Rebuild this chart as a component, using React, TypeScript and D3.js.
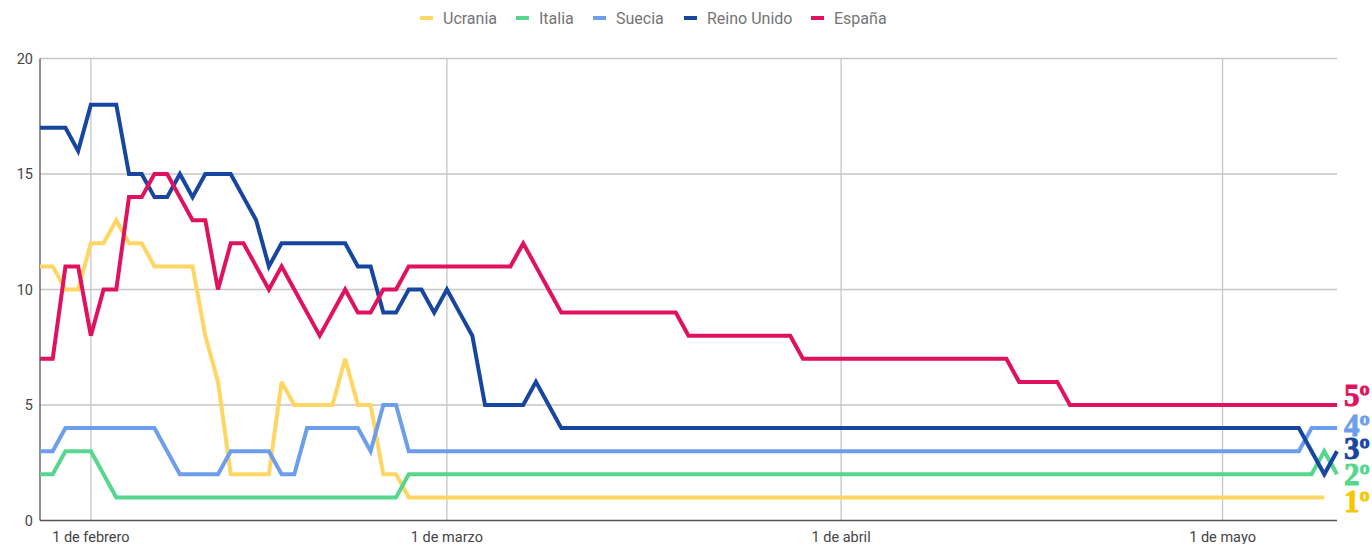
import React from "react";
import * as d3 from "d3";

const W = 1372;
const H = 544;

const startDate = new Date(2022, 0, 28);
const endDate = new Date(2022, 4, 10);

const seriesNames = ["Ucrania", "Italia", "Suecia", "Reino Unido", "España"];
const seriesColors = ["#fdd663", "#57d68d", "#6d9eeb", "#1746a0", "#e0115f"];
const rankColors = ["#f7c600", "#57d68d", "#1746a0", "#6d9eeb", "#e0115f"];

// daily values from 28 Jan 2022 to 10 May 2022 (103 days)
const ucrania: (number | null)[] = [
  11, 11, 10, 10, 12, 12, 13, 12, 12, 11, 11, 11, 11, 8, 6, 2, 2, 2, 2, 6,
  5, 5, 5, 5, 7, 5, 5, 2, 2, 1, 1, 1, 1, 1, 1, 1, 1, 1, 1, 1,
  1, 1, 1, 1, 1, 1, 1, 1, 1, 1, 1, 1, 1, 1, 1, 1, 1, 1, 1, 1,
  1, 1, 1, 1, 1, 1, 1, 1, 1, 1, 1, 1, 1, 1, 1, 1, 1, 1, 1, 1,
  1, 1, 1, 1, 1, 1, 1, 1, 1, 1, 1, 1, 1, 1, 1, 1, 1, 1, 1, 1,
  1, 1, null,
];
const italia: (number | null)[] = [
  2, 2, 3, 3, 3, 2, 1, 1, 1, 1, 1, 1, 1, 1, 1, 1, 1, 1, 1, 1,
  1, 1, 1, 1, 1, 1, 1, 1, 1, 2, 2, 2, 2, 2, 2, 2, 2, 2, 2, 2,
  2, 2, 2, 2, 2, 2, 2, 2, 2, 2, 2, 2, 2, 2, 2, 2, 2, 2, 2, 2,
  2, 2, 2, 2, 2, 2, 2, 2, 2, 2, 2, 2, 2, 2, 2, 2, 2, 2, 2, 2,
  2, 2, 2, 2, 2, 2, 2, 2, 2, 2, 2, 2, 2, 2, 2, 2, 2, 2, 2, 2,
  2, 3, 2,
];
const suecia: (number | null)[] = [
  3, 3, 4, 4, 4, 4, 4, 4, 4, 4, 3, 2, 2, 2, 2, 3, 3, 3, 3, 2,
  2, 4, 4, 4, 4, 4, 3, 5, 5, 3, 3, 3, 3, 3, 3, 3, 3, 3, 3, 3,
  3, 3, 3, 3, 3, 3, 3, 3, 3, 3, 3, 3, 3, 3, 3, 3, 3, 3, 3, 3,
  3, 3, 3, 3, 3, 3, 3, 3, 3, 3, 3, 3, 3, 3, 3, 3, 3, 3, 3, 3,
  3, 3, 3, 3, 3, 3, 3, 3, 3, 3, 3, 3, 3, 3, 3, 3, 3, 3, 3, 3,
  4, 4, 4,
];
const reinoUnido: (number | null)[] = [
  17, 17, 17, 16, 18, 18, 18, 15, 15, 14, 14, 15, 14, 15, 15, 15, 14, 13, 11, 12,
  12, 12, 12, 12, 12, 11, 11, 9, 9, 10, 10, 9, 10, 9, 8, 5, 5, 5, 5, 6,
  5, 4, 4, 4, 4, 4, 4, 4, 4, 4, 4, 4, 4, 4, 4, 4, 4, 4, 4, 4,
  4, 4, 4, 4, 4, 4, 4, 4, 4, 4, 4, 4, 4, 4, 4, 4, 4, 4, 4, 4,
  4, 4, 4, 4, 4, 4, 4, 4, 4, 4, 4, 4, 4, 4, 4, 4, 4, 4, 4, 4,
  3, 2, 3,
];
const espana: (number | null)[] = [
  7, 7, 11, 11, 8, 10, 10, 14, 14, 15, 15, 14, 13, 13, 10, 12, 12, 11, 10, 11,
  10, 9, 8, 9, 10, 9, 9, 10, 10, 11, 11, 11, 11, 11, 11, 11, 11, 11, 12, 11,
  10, 9, 9, 9, 9, 9, 9, 9, 9, 9, 9, 8, 8, 8, 8, 8, 8, 8, 8, 8,
  7, 7, 7, 7, 7, 7, 7, 7, 7, 7, 7, 7, 7, 7, 7, 7, 7, 6, 6, 6,
  6, 5, 5, 5, 5, 5, 5, 5, 5, 5, 5, 5, 5, 5, 5, 5, 5, 5, 5, 5,
  5, 5, 5,
];

const seriesValues = [ucrania, italia, suecia, reinoUnido, espana];

const yTicks = [0, 5, 10, 15, 20];
const xTickDates = [
  new Date(2022, 1, 1),
  new Date(2022, 2, 1),
  new Date(2022, 3, 1),
  new Date(2022, 4, 1),
];
const xTickLabels = ["1 de febrero", "1 de marzo", "1 de abril", "1 de mayo"];

const rankLabels = ["1º", "2º", "3º", "4º", "5º"];
const rankBaselines = [512, 485, 459, 436, 406];

const legendSwatchX = [420, 516, 593, 684, 811];

const margin = { left: 40, right: 1337, top: 58.5, bottom: 520.5 };

export default function App() {
  const x = d3.scaleTime().domain([startDate, endDate]).range([margin.left, margin.right]);
  const y = d3.scaleLinear().domain([0, 20]).range([margin.bottom, margin.top]);

  const dates = d3.timeDay.range(startDate, d3.timeDay.offset(endDate, 1));

  const line = d3
    .line<{ d: Date; v: number | null }>()
    .defined((p) => p.v !== null)
    .x((p) => x(p.d))
    .y((p) => y(p.v as number));

  const font = "Roboto, 'Noto Sans', Arial, sans-serif";

  return (
    <svg
      width={W}
      height={H}
      style={{ position: "absolute", left: 0, top: 0, background: "#fff" }}
    >
      <rect x={0} y={0} width={W} height={H} fill="#fff" />
      {/* horizontal gridlines */}
      {yTicks.slice(1).map((t) => (
        <line
          key={"h" + t}
          x1={margin.left}
          x2={margin.right}
          y1={y(t)}
          y2={y(t)}
          stroke="#c6c6c6"
          strokeWidth={1.3}
        />
      ))}
      {/* vertical gridlines */}
      {xTickDates.map((d, i) => (
        <line
          key={"v" + i}
          x1={x(d)}
          x2={x(d)}
          y1={margin.top}
          y2={margin.bottom}
          stroke="#c6c6c6"
          strokeWidth={1.3}
        />
      ))}
      {/* axes */}
      <line x1={margin.left} x2={margin.left} y1={margin.top} y2={margin.bottom} stroke="#555" strokeWidth={1.3} />
      <line x1={margin.left} x2={margin.right} y1={margin.bottom} y2={margin.bottom} stroke="#555" strokeWidth={1.3} />

      {/* y tick labels */}
      {yTicks.map((t) => (
        <text
          key={"yt" + t}
          x={33}
          y={y(t)}
          dy="0.35em"
          textAnchor="end"
          fontFamily={font}
          fontSize={14.5}
          fill="#444"
        >
          {t}
        </text>
      ))}
      {/* x tick labels */}
      {xTickDates.map((d, i) => (
        <text
          key={"xt" + i}
          x={x(d)}
          y={537}
          dy="0.35em"
          textAnchor="middle"
          fontFamily={font}
          fontSize={14.5}
          fill="#444"
        >
          {xTickLabels[i]}
        </text>
      ))}

      {/* series lines */}
      {seriesValues.map((vals, si) => (
        <path
          key={"s" + si}
          d={line(dates.map((d, i) => ({ d, v: vals[i] ?? null }))) || ""}
          fill="none"
          stroke={seriesColors[si]}
          strokeWidth={4}
          strokeLinejoin="miter"
          strokeMiterlimit={3}
        />
      ))}

      {/* legend */}
      {seriesNames.map((name, i) => (
        <g key={"lg" + i}>
          <rect x={legendSwatchX[i]} y={16} width={13} height={4} fill={seriesColors[i]} />
          <text
            x={legendSwatchX[i] + 23}
            y={18}
            dy="0.35em"
            fontFamily={font}
            fontSize={16}
            fill="#757575"
          >
            {name}
          </text>
        </g>
      ))}

      {/* rank labels */}
      {rankLabels.map((r, i) => (
        <text
          key={"rk" + i}
          x={1344}
          y={rankBaselines[i]}
          fontFamily="'Liberation Serif', 'DejaVu Serif', serif"
          fontWeight="bold"
          fontSize={31}
          fill={rankColors[i]}
          stroke={rankColors[i]}
          strokeWidth={0.9}
        >
          {r}
        </text>
      ))}
    </svg>
  );
}
